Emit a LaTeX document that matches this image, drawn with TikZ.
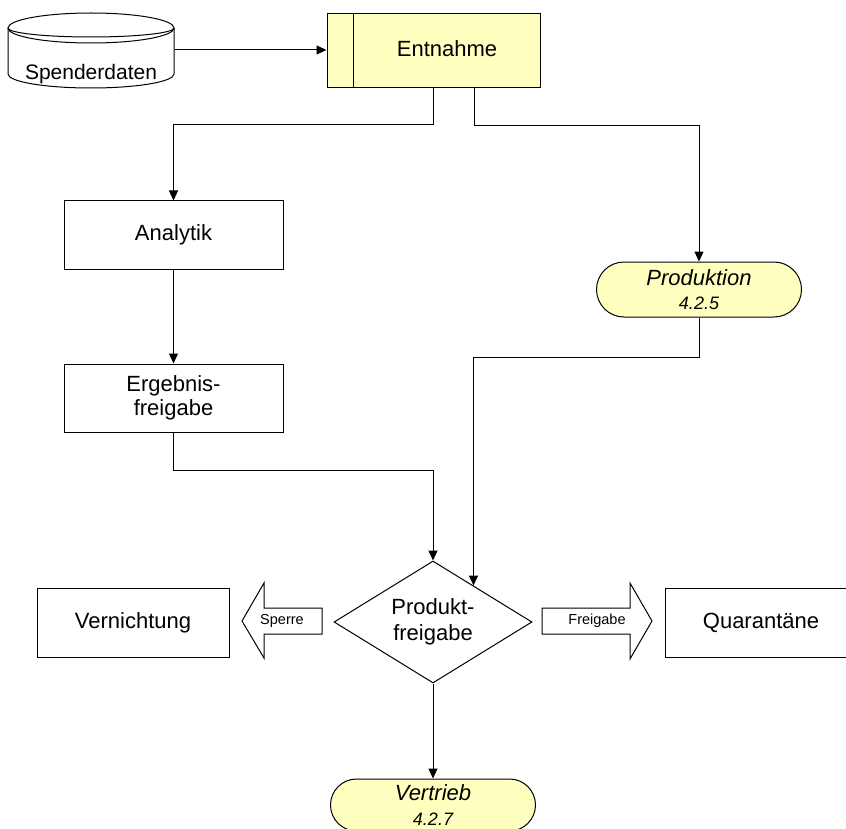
\documentclass[tikz,border=0pt]{standalone}
\usepackage{fontspec}
\setmainfont{Liberation Sans}
\usetikzlibrary{arrows.meta,shapes.geometric}
\definecolor{boxyellow}{HTML}{FFFFC0}
\begin{document}
\begin{tikzpicture}[x=1pt,y=-1pt,line width=1pt,
  arr/.style={-{Triangle[length=10pt,width=9pt]}},
  box/.style={draw, rectangle, inner sep=0pt, align=center, font=\fontsize{22}{24}\selectfont},
  term/.style={draw, fill=boxyellow, rectangle, minimum width=205pt, inner sep=0pt, align=center, font=\fontsize{22}{24}\selectfont\itshape},
  lbl/.style={inner sep=0pt, font=\fontsize{22}{24}\selectfont},
  small/.style={inner sep=0pt, font=\fontsize{14.5}{16}\selectfont},
  blockarrow/.style={draw, fill=white}]
\fill[white] (0,0) rectangle (846,829);
\useasboundingbox (0,0) rectangle (846,829);
\clip (0,0) rectangle (846,829);

% Spenderdaten (cylinder)
\node[inner sep=0pt, minimum width=166pt, minimum height=76pt] (sp) at (91,50) {};
\draw[fill=white] (8,28) -- (8,74) arc[start angle=180,end angle=360,x radius=83pt,y radius=14pt] -- (174,28);
\draw[fill=white] (91,28) ellipse[x radius=83pt,y radius=15pt];
\draw (8,28) arc[start angle=180,end angle=360,x radius=83pt,y radius=9pt];
\node[lbl, font=\fontsize{21}{24}\selectfont] (sptxt) at (91,74.5) {Spenderdaten};

% Entnahme
\node[box, fill=boxyellow, minimum width=213pt, minimum height=74pt] (ent) at (433.5,51) {};
\draw ([xshift=27pt]ent.north west) -- ([xshift=27pt]ent.south west);
\node[lbl] (enttxt) at (447,49) {Entnahme};

% left column
\node[box, minimum width=219pt, minimum height=68pt] (ana) at (173.5,235) {Analytik};
\node[box, minimum width=219pt, minimum height=68pt] (erg) at (173.5,398) {Ergebnis-\\freigabe};

% Produktion
\node[term, minimum height=55pt, rounded corners=27.5pt] (prod) at (699,289.5) {Produktion\\{\fontsize{18}{20}\selectfont 4.2.5}};

% decision
\node[draw, diamond, aspect=1.62, minimum width=198pt, minimum height=122pt, inner sep=0pt, align=center, font=\fontsize{22}{26}\selectfont] (dia) at (433,622) {Produkt-\\freigabe};

% side boxes
\node[box, minimum width=192pt, minimum height=69pt] (ver) at (133,622.5) {Vernichtung};
\node[box, minimum width=192pt, minimum height=69pt] (qua) at (761,622.5) {Quarantäne};

% block arrows
\draw[blockarrow] (322,608) -- (264,608) -- (264,583) -- (242,621) -- (264,658) -- (264,634) -- (322,634) -- cycle;
\node[small] (sperre) at (282,621) {Sperre};
\draw[blockarrow] (542,608) -- (630,608) -- (630,583) -- (652,621) -- (630,659) -- (630,634) -- (542,634) -- cycle;
\node[small] (freig) at (597,621) {Freigabe};

% Vertrieb
\node[term, minimum height=52pt, rounded corners=26pt, font=\fontsize{22}{25}\selectfont\itshape] (vert) at (433,805) {Vertrieb\\{\fontsize{18}{20}\selectfont 4.2.7}};

% connectors
\draw[arr] (sp.east) -- (sp.east -| ent.west);
\draw[arr] (ent.south) -- ++(0,36) -| (ana.north);
\draw[arr] ([xshift=40.5pt]ent.south) -- ++(0,37) -| (prod.north);
\draw[arr] (ana.south) -- (erg.north);
\draw[arr] (erg.south) -- ++(0,38) -| (dia.north);
\draw[arr] (prod.south) -- ++(0,40) -| (dia.42.3);
\draw[arr] (dia.south) -- (vert.north);
\end{tikzpicture}
\end{document}
